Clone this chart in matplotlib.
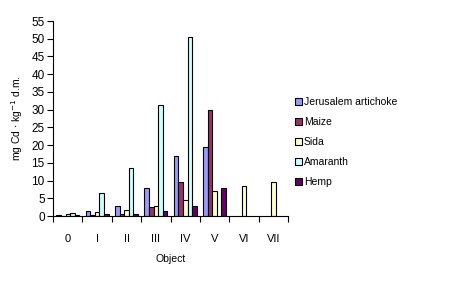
import matplotlib
matplotlib.use("Agg")
import matplotlib.pyplot as plt
import numpy as np

plt.rcParams['font.family'] = ['Liberation Sans', 'DejaVu Sans']

objects = ['0', 'I', 'II', 'III', 'IV', 'V', 'VI', 'VII']
series = ['Jerusalem artichoke', 'Maize', 'Sida', 'Amaranth', 'Hemp']
jerusalem = [0.2, 1.4, 2.9, 7.8, 17.0, 19.6, 0, 0]
maize = [0.1, 0.3, 0.7, 2.5, 9.5, 29.9, 0, 0]
sida = [0.7, 1.1, 1.7, 2.9, 4.6, 7.1, 8.6, 9.5]
amaranth = [1.0, 6.4, 13.6, 31.3, 50.4, 0, 0, 0]
hemp = [0.3, 0.6, 0.6, 1.5, 2.8, 7.8, 0, 0]
colors = ['#9999FF', '#993366', '#FFFFCC', '#CCFFFF', '#660066']

values = [jerusalem, maize, sida, amaranth, hemp]

fig = plt.figure(figsize=(4.5, 2.92), dpi=100)
ax = fig.add_axes([0.118, 0.26, 0.522, 0.668])

x = np.arange(len(objects))
w = 0.155
for i, (name, vals) in enumerate(zip(series, values)):
	pos = x + (i - 2) * w
	v = np.array(vals, dtype=float)
	mask = v > 0
	ax.bar(pos[mask], v[mask], width=w, color=colors[i], edgecolor='black',
		linewidth=0.8, label=name)

ax.set_xlim(-0.5, len(objects) - 0.5)
ax.set_ylim(0, 55)
ax.set_yticks(np.arange(0, 56, 5))
ax.set_xticks(x)
ax.set_xticklabels(objects)
ax.set_xticks(np.arange(-0.5, len(objects), 1), minor=True)
ax.tick_params(axis='x', which='major', length=0, pad=13, labelsize=8)
ax.tick_params(axis='x', which='minor', length=4, width=0.8)
ax.tick_params(axis='y', length=4, width=0.8, labelsize=8.5, pad=2)
for s in ['top', 'right']:
	ax.spines[s].set_visible(False)
for s in ['left', 'bottom']:
	ax.spines[s].set_linewidth(0.8)

ax.set_xlabel('Object', fontsize=7.5, labelpad=7)
ax.set_ylabel('mg Cd $\\cdot$ kg$^{-1}$ d.m.', fontsize=7.5, labelpad=5)

ax.legend(loc='upper left', bbox_to_anchor=(1.01, 0.63), frameon=False,
	fontsize=7.5, handlelength=0.7, handleheight=0.7, handletextpad=0.2,
	labelspacing=0.95, borderaxespad=0)

fig.savefig('out.png', dpi=100)
